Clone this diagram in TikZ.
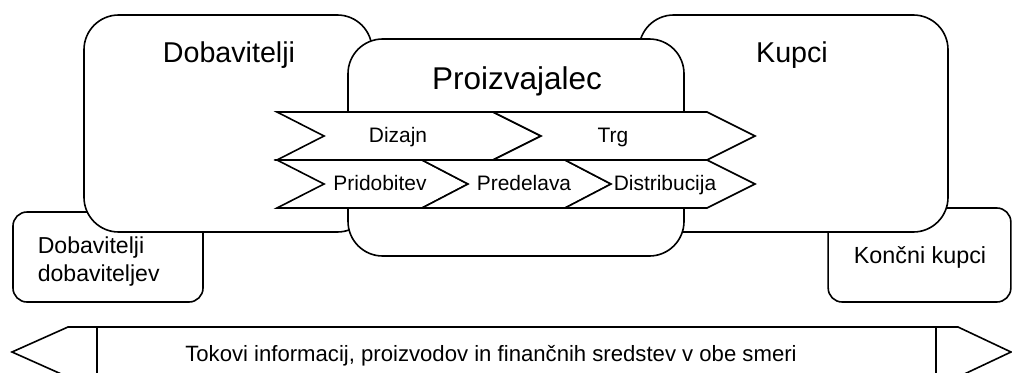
\documentclass[tikz,border=0pt]{standalone}
\usepackage{fontspec}
\setmainfont{Liberation Sans}
\newcommand{\fsz}[1]{\fontsize{#1}{1.2\dimexpr#1\relax}\selectfont}

\begin{document}
\begin{tikzpicture}[x=0.75pt, y=-0.75pt, line width=1.2pt,
	bigbox/.style={draw, fill=white, rounded corners=26pt, inner sep=0pt},
	smallbox/.style={draw, fill=white, rounded corners=10.5pt, inner sep=0pt, minimum width=137pt},
	chev/.style={draw, fill=white, line join=miter},
	title/.style={anchor=base, inner sep=0pt, font=\fsz{21.5pt}},
	stage/.style={anchor=base, inner sep=0pt, font=\fsz{15.7pt}}]
	\clip (0,0) rectangle (1012,372);
	\node[smallbox, minimum width=142.5pt, minimum height=67.5pt] (dd-box) at (108,257) {};
	\node[smallbox, minimum height=70.5pt] (kk-box) at (919.5,255) {};
	\node[bigbox, minimum width=216pt, minimum height=162.75pt] (dob-box) at (228,123.5) {};
	\node[bigbox, minimum width=231.75pt, minimum height=162.75pt] (kupci-box) at (793.5,123.5) {};
	\node[bigbox, minimum width=252pt, minimum height=162.75pt] (proiz-box) at (516,147.5) {};
	%%%%%%%%%%%%%
	\node[title] (dob) at (229,62) {Dobavitelji};
	\node[title] (kupci) at (792,62) {Kupci};
	\node[title, font=\fsz{23.6pt}] (proiz) at (517,89) {Proizvajalec};
	\node[anchor=base west, inner sep=0pt, align=left, font=\fsz{17.3pt}] (dd) at (37,281) {Dobavitelji\\dobaviteljev};
	\node[anchor=base, inner sep=0pt, font=\fsz{17.5pt}] (kk) at (920,263) {Končni kupci};
	%%%%%%%%%%%%%
	\draw[chev] (277,112) -- (493,112) -- (541,136) -- (493,160) -- (277,160) -- (324,136) -- cycle;
	\draw[chev] (493,112) -- (707,112) -- (755,136) -- (707,160) -- (493,160) -- (541,136) -- cycle;
	\draw[chev] (277,160) -- (422,160) -- (468,184) -- (422,208) -- (277,208) -- (324,184) -- cycle;
	\draw[chev] (422,160) -- (565,160) -- (611,184) -- (565,208) -- (422,208) -- (468,184) -- cycle;
	\draw[chev] (565,160) -- (707,160) -- (755,184) -- (707,208) -- (565,208) -- (611,184) -- cycle;
	\node[stage] (dizajn) at (398,142) {Dizajn};
	\node[stage] (trg) at (613,142) {Trg};
	\node[stage] (pridob) at (380,190) {Pridobitev};
	\node[stage] (predel) at (524,190) {Predelava};
	\node[stage] (distrib) at (665,190) {Distribucija};
	%%%%%%%%%%%%%
	\draw[line join=miter] (68,327) -- (958,327) -- (1011,352) -- (958,377) -- (68,377) -- (12,352) -- cycle;
	\draw (97,327) -- (97,377);
	\draw (936,327) -- (936,377);
	\node[anchor=base, inner sep=0pt, font=\fsz{16.6pt}] (tokovi) at (491,361) {Tokovi informacij, proizvodov in finančnih sredstev v obe smeri};
\end{tikzpicture}
\end{document}
